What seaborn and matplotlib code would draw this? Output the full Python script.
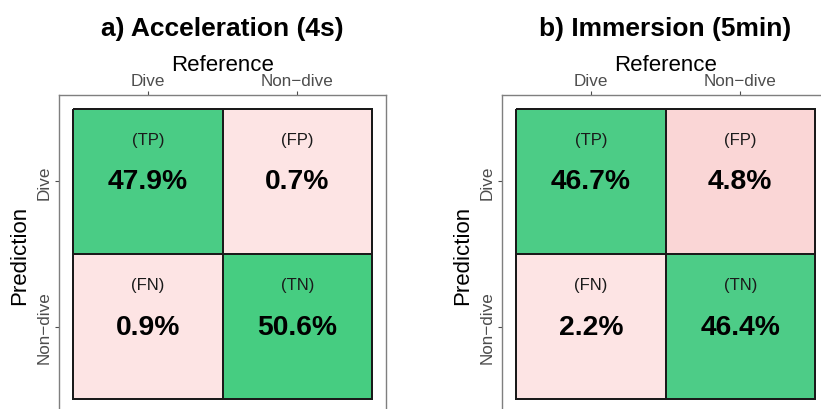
import numpy as np
import pandas as pd
import matplotlib
matplotlib.use("Agg")
import matplotlib.pyplot as plt
from matplotlib.colors import LinearSegmentedColormap
import seaborn as sns

sns.set_style("white")
plt.rcParams['font.family'] = ['Liberation Sans', 'DejaVu Sans']

# ---- data ----
classes = ["Dive", "Non\u2212dive"]
titles = ["a) Acceleration (4s)", "b) Immersion (5min)"]
cell_codes = [["(TP)", "(FP)"], ["(FN)", "(TN)"]]
acc_values = [[47.9, 0.7], [0.9, 50.6]]
imm_values = [[46.7, 4.8], [2.2, 46.4]]
panels = [acc_values, imm_values]

green_cmap = LinearSegmentedColormap.from_list("g", ["#4FCC89", "#45CD80"])
pink_cmap = LinearSegmentedColormap.from_list("p", ["#FDE4E4", "#FAD5D5"])

fig = plt.figure(figsize=(8.21, 4.10), dpi=100)
W, H = 821, 410
lefts = [59, 502]
pad = 14 / 149.0

for i, vals in enumerate(panels):
    x0 = lefts[i]
    ax = fig.add_axes([x0 / W, (H - 414) / H, 327 / W, (414 - 96) / H])
    df = pd.DataFrame(vals, index=classes, columns=classes)
    diag = np.eye(2, dtype=bool)
    sns.heatmap(df, mask=~diag, cmap=green_cmap, vmin=45, vmax=51, cbar=False,
                linewidths=1.2, linecolor="#1a1a1a", ax=ax)
    sns.heatmap(df, mask=diag, cmap=pink_cmap, vmin=2.5, vmax=5, cbar=False,
                linewidths=1.2, linecolor="#1a1a1a", ax=ax)
    ax.set_xlim(-pad, 2 + pad)
    ax.set_ylim(2 + pad, -pad)
    for r in range(2):
        for c in range(2):
            ax.text(c + 0.5, r + 0.5 - 0.29, cell_codes[r][c], ha="center", va="center",
                    fontsize=12, color="#1a1a1a")
            ax.text(c + 0.5, r + 0.5, f"{vals[r][c]:.1f}%", ha="center", va="center",
                    fontsize=20.3, fontweight="bold", color="black")
    ax.xaxis.tick_top()
    ax.xaxis.set_label_position("top")
    ax.set_xticks([0.5, 1.5])
    ax.set_xticklabels(classes)
    ax.set_yticks([0.5, 1.5])
    ax.set_yticklabels(classes, rotation=90, va="center")
    ax.tick_params(axis="both", which="both", length=3, width=0.8, color="#4d4d4d",
                   labelcolor="#4d4d4d", labelsize=12.3, pad=2,
                   top=True, bottom=False, left=True, right=False)
    ax.set_xlabel("Reference", fontsize=16, labelpad=2, color="black")
    ax.set_ylabel("Prediction", fontsize=16, labelpad=5, color="black")
    for s in ["top", "left", "right"]:
        ax.spines[s].set_visible(True)
        ax.spines[s].set_color("#7f7f7f")
        ax.spines[s].set_linewidth(1.0)
    ax.spines["bottom"].set_visible(False)
    ax.set_title(titles[i], fontsize=19, fontweight="bold", pad=14, color="black")

fig.savefig("out.png", dpi=100)
